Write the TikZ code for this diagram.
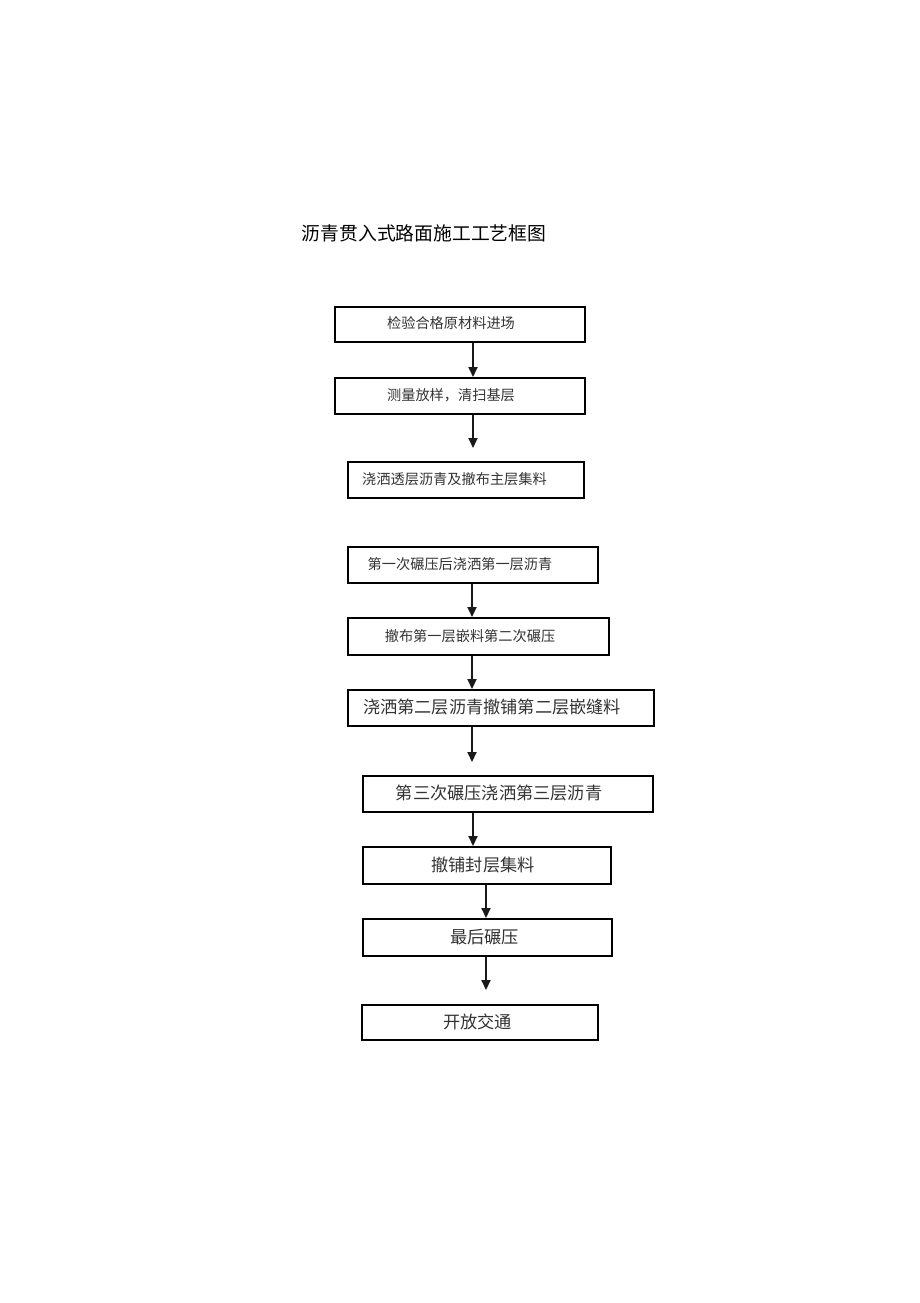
\documentclass[tikz,border=0pt]{standalone}
\usepackage{fontspec}
\newfontfamily\cjk{Noto Sans CJK SC}
\usetikzlibrary{arrows.meta}
\begin{document}
\begin{tikzpicture}[x=1pt,y=-1pt,
  stepbox/.style={draw=black,line width=1.5pt,rectangle,inner sep=0pt,anchor=north west},
  smalltxt/.style={inner sep=0pt,font=\cjk\fontsize{14.2}{16}\selectfont,text=black!80},
  bigtxt/.style={inner sep=0pt,font=\cjk\fontsize{17.2}{19}\selectfont,text=black!80},
  arr/.style={line width=2pt,draw=black!90,-{Triangle[width=9pt,length=10pt]}}]
\useasboundingbox (0,0) rectangle (920,1303);
\node[inner sep=0pt,font=\cjk\fontsize{18.8}{21}\selectfont] (title) at (424,233) {沥青贯入式路面施工工艺框图};
% boxes
\node[stepbox,minimum width=250pt,minimum height=35pt] (b1) at (334,306) {};
\node[stepbox,minimum width=250pt,minimum height=36pt] (b2) at (334,377) {};
\node[stepbox,minimum width=236pt,minimum height=36pt] (b3) at (347,461) {};
\node[stepbox,minimum width=250pt,minimum height=36pt] (b4) at (347,546) {};
\node[stepbox,minimum width=261pt,minimum height=37pt] (b5) at (347,617) {};
\node[stepbox,minimum width=306pt,minimum height=36pt] (b6) at (347,689) {};
\node[stepbox,minimum width=290pt,minimum height=36pt] (b7) at (362,775) {};
\node[stepbox,minimum width=248pt,minimum height=37pt] (b8) at (362,846) {};
\node[stepbox,minimum width=249pt,minimum height=37pt] (b9) at (362,918) {};
\node[stepbox,minimum width=236pt,minimum height=35pt] (b10) at (361,1004) {};
% texts
\node[smalltxt] (t1) at (451,323) {检验合格原材料进场};
\node[smalltxt] (t2) at (451,395) {测量放样，清扫基层};
\node[smalltxt] (t3) at (454.5,479) {浇洒透层沥青及撤布主层集料};
\node[smalltxt] (t4) at (460,564) {第一次碾压后浇洒第一层沥青};
\node[smalltxt] (t5) at (470,636) {撤布第一层嵌料第二次碾压};
\node[bigtxt] (t6) at (492,707) {浇洒第二层沥青撤铺第二层嵌缝料};
\node[bigtxt] (t7) at (499,793) {第三次碾压浇洒第三层沥青};
\node[bigtxt] (t8) at (483,865) {撤铺封层集料};
\node[bigtxt] (t9) at (484.5,937) {最后碾压};
\node[bigtxt] (t10) at (477.5,1022) {开放交通};
% arrow columns and free ends
\coordinate (ca) at (473,0);
\coordinate (cb) at (472,0);
\coordinate (cc) at (486,0);
\coordinate (e3) at (473,448);
\coordinate (e7) at (472,762);
\coordinate (e10) at (486,990);
% connectors
\draw[arr] (b1.south -| ca) -- (b2.north -| ca);
\draw[arr] (b2.south -| ca) -- (e3);
\draw[arr] (b4.south -| cb) -- (b5.north -| cb);
\draw[arr] (b5.south -| cb) -- (b6.north -| cb);
\draw[arr] (b6.south -| cb) -- (e7);
\draw[arr] (b7.south -| ca) -- (b8.north -| ca);
\draw[arr] (b8.south -| cc) -- (b9.north -| cc);
\draw[arr] (b9.south -| cc) -- (e10);
\end{tikzpicture}
\end{document}
